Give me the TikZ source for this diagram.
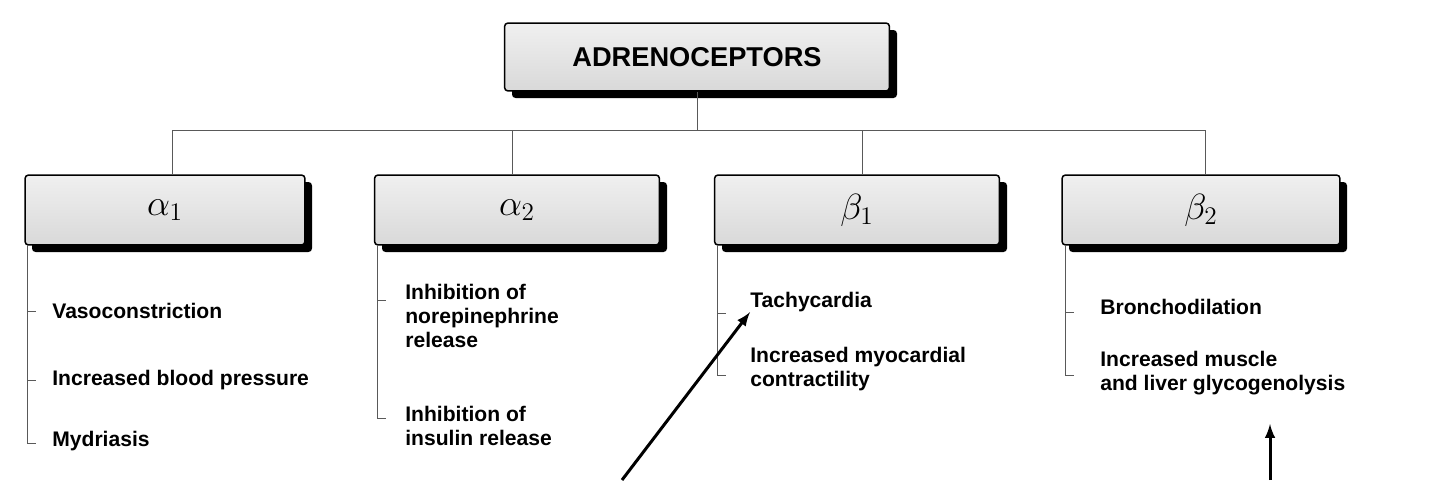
\documentclass[tikz,border=0pt]{standalone}
\usepackage{fontspec}
\setmainfont{Liberation Sans}
\usetikzlibrary{positioning}
\tikzset{
  recbox/.style={draw, line width=0.03cm, rounded corners=2pt, top color=gray!12, bottom color=gray!30,
    minimum height=1.4cm},
  shadowbox/.style={fill=black, rounded corners=2pt},
  branch/.style={line width=0.02cm, gray!70!black},
  item/.style={anchor=west, align=left, font=\bfseries\fontsize{12}{13.5}\selectfont, inner sep=0pt}
}
\begin{document}
\begin{tikzpicture}[x=0.02cm, y=-0.02cm]
  \useasboundingbox (0,0) rectangle (1440,480);
  {\footnotesize

  % shadows of the boxes
  \fill [shadowbox] (512,30) rectangle (897,98);
  \foreach \xa/\xb in {25/305, 375/660, 715/1000, 1062/1340}
    \fill [shadowbox] (\xa+7,182) rectangle (\xb+7,252);

  % title box
  \node [recbox, minimum width=7.7cm, minimum height=1.36cm, font=\bfseries\fontsize{15.5}{17}\selectfont]
    (top) at (697,57) {ADRENOCEPTORS};

  % receptor boxes
  \node [recbox, minimum width=5.6cm] (a1) at (165,210) {\fontsize{22}{24}\selectfont$\alpha_1$};
  \node [recbox, minimum width=5.7cm] (a2) at (517,210) {\fontsize{22}{24}\selectfont$\alpha_2$};
  \node [recbox, minimum width=5.7cm] (b1) at (857,210) {\fontsize{22}{24}\selectfont$\beta_1$};
  \node [recbox, minimum width=5.56cm] (b2) at (1201,210) {\fontsize{22}{24}\selectfont$\beta_2$};

  % tree of connectors
  \coordinate (hub) at (697,130);
  \draw [branch] (top.south) -- (hub);
  \draw [branch] (172,130) -- (1205,130);
  \draw [branch] (172,130) -- (172,175);
  \draw [branch] (512,130) -- (512,175);
  \draw [branch] (862,130) -- (862,175);
  \draw [branch] (1205,130) -- (1205,175);

  % lists
  \draw [branch] (27,245) -- (27,443) -- (36,443);
  \draw [branch] (27,311) -- (36,311);
  \draw [branch] (27,380) -- (36,380);
  \node [item] (v1) at (52,311) {Vasoconstriction};
  \node [item] (v2) at (52,380) {Increased blood pressure};
  \node [item] (v3) at (52,441) {Mydriasis};

  \draw [branch] (377,245) -- (377,418) -- (386,418);
  \draw [branch] (377,300) -- (386,300);
  \node [item, anchor=north west] (n1) at (405,284) {Inhibition of\\norepinephrine\\release};
  \node [item, anchor=north west] (n2) at (405,406) {Inhibition of\\insulin release};

  \draw [branch] (717,245) -- (717,375) -- (726,375);
  \draw [branch] (717,313) -- (726,313);
  \node [item] (t1) at (750,302) {Tachycardia};
  \node [item, anchor=north west] (t2) at (750,347) {Increased myocardial\\contractility};

  \draw [branch] (1065,245) -- (1065,375) -- (1074,375);
  \draw [branch] (1065,312) -- (1074,312);
  \node [item] (g1) at (1100,307) {Bronchodilation};
  \node [item, anchor=north west] (g2) at (1100,351) {Increased muscle\\and liver glycogenolysis};

  % pointer arrows
  \coordinate (p1) at (622,480);
  \coordinate (p2) at (1270,480);
  \draw [-latex, line width=0.06cm] (p1) -- (t1.south west);
  \draw [-latex, line width=0.06cm] (p2) -- (1270,424);
  }
\end{tikzpicture}
\end{document}
